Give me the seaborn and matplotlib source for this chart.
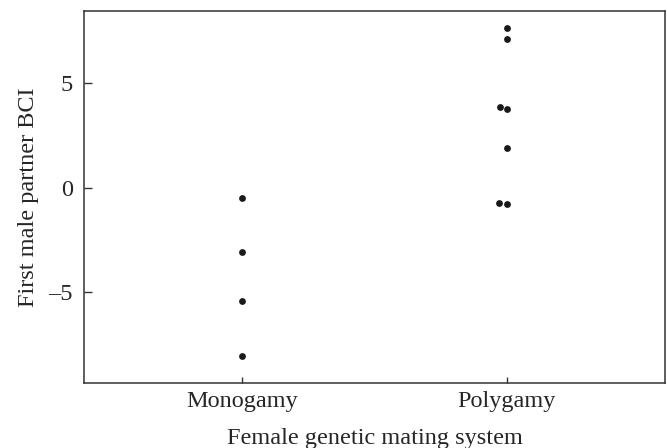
import numpy as np
import pandas as pd
import matplotlib
matplotlib.use("Agg")
import matplotlib.pyplot as plt
import seaborn as sns

# ---- data ----
categories = ["Monogamy", "Polygamy"]
monogamy_bci = [-0.51, -3.07, -5.45, -8.06]
polygamy_bci = [7.67, 7.14, 3.88, 3.76, 1.89, -0.73, -0.77]
y_ticks = [-5, 0, 5]
x_label = "Female genetic mating system"
y_label = "First male partner BCI"

df = pd.DataFrame({
    "system": [categories[0]] * len(monogamy_bci) + [categories[1]] * len(polygamy_bci),
    "bci": monogamy_bci + polygamy_bci,
})

sns.set_theme(style="white")
plt.rcParams["font.family"] = ["Liberation Serif", "DejaVu Serif"]
plt.rcParams["axes.unicode_minus"] = True

text_color = "#262626"
fs = 17.5
fig = plt.figure(figsize=(6.67, 4.48), dpi=100)
ax = fig.add_axes([84 / 667, 1 - 383 / 448, (665 - 84) / 667, (383 - 11) / 448])

sns.swarmplot(data=df, x="system", y="bci", order=categories, color="#1a1a1a",
              size=4.9, linewidth=0, ax=ax)

ax.set_xlim(-0.6, 1.6)
ax.set_ylim(-9.36, 8.47)
ax.set_yticks(y_ticks)
ax.set_yticklabels([f"{t}".replace("-", "\u2013") for t in y_ticks])

for side in ["left", "right", "top", "bottom"]:
    ax.spines[side].set_visible(True)
    ax.spines[side].set_color("#333333")
    ax.spines[side].set_linewidth(1.1)

ax.tick_params(axis="y", direction="in", length=6, width=1.0, color="#333333",
               pad=8, labelsize=fs, labelcolor=text_color, left=True)
ax.tick_params(axis="x", direction="in", length=4.5, width=1.0, color="#333333",
               pad=6, labelsize=fs, labelcolor=text_color, bottom=True)

ax.set_xlabel(x_label, fontsize=fs, color=text_color)
ax.set_ylabel(y_label, fontsize=fs, color=text_color)
ax.xaxis.set_label_coords(0.5, -0.122)
ax.yaxis.set_label_coords(-0.078, 0.5)
ax.grid(False)

fig.savefig("out.png", dpi=100)
